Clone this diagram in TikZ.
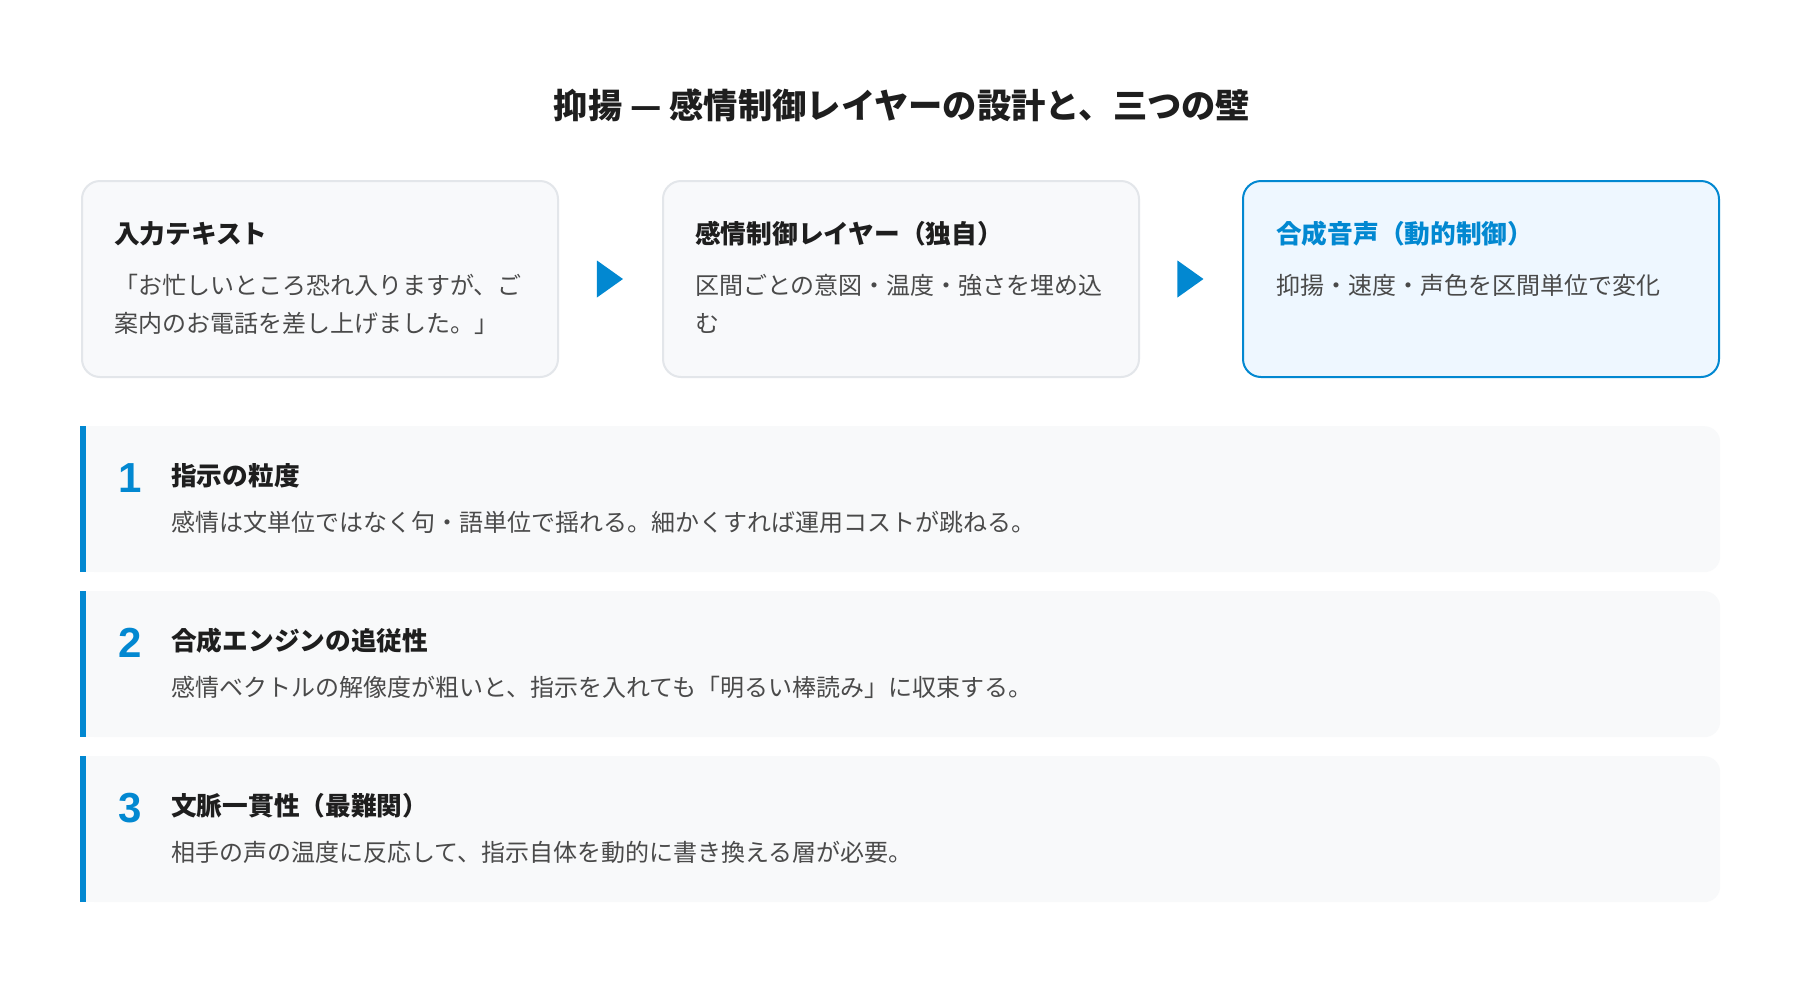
\documentclass[tikz,border=0pt]{standalone}
\usepackage{fontspec}
\newfontfamily\jp{Noto Sans CJK JP}
\newfontfamily\numfont{Liberation Sans}
\usetikzlibrary{shapes.geometric,calc}
\definecolor{accent}{HTML}{0288D1}
\definecolor{cardfill}{HTML}{F8F9FB}
\definecolor{cardline}{HTML}{E3E6EA}
\definecolor{hifill}{HTML}{EEF7FF}
\definecolor{panelfill}{HTML}{F8F9FA}
\definecolor{headcol}{HTML}{1E1E1E}
\definecolor{bodycol}{HTML}{4A4A4A}
\begin{document}
\begin{tikzpicture}[x=1pt,y=-1pt,
  card/.style={draw=cardline, line width=2pt, fill=cardfill, rounded corners=18pt,
    minimum width=476pt, minimum height=196pt, inner sep=0pt, outer sep=0pt, anchor=north west},
  cardhi/.style={card, draw=accent, fill=hifill},
  panelbox/.style={fill=panelfill, rounded corners=16pt, minimum width=1640pt,
    minimum height=146pt, inner sep=0pt, anchor=north west},
  hd/.style={anchor=base west, inner sep=0pt, text=headcol, font=\jp\bfseries\fontsize{25.7}{30}\selectfont},
  bd/.style={anchor=base west, inner sep=0pt, text=bodycol, font=\jp\fontsize{24}{30}\selectfont},
  num/.style={anchor=base, inner sep=0pt, text=accent, font=\numfont\bfseries\fontsize{42}{46}\selectfont},
  flowtri/.style={isosceles triangle, isosceles triangle stretches, fill=accent, draw=none,
    minimum height=26pt, minimum width=37pt, inner sep=0pt, shape border rotate=0}
]
\useasboundingbox (0,0) rectangle (1800,1002);
\fill[white] (0,0) rectangle (1800,1002);

% title
\node[anchor=base, inner sep=0pt, text=headcol, font=\jp\bfseries\fontsize{34.3}{40}\selectfont]
  (title) at (902,118) {抑揚 — 感情制御レイヤーの設計と、三つの壁};

% top cards
\node[card] (b1) at (82,181) {};
\node[card] (b2) at (663,181) {};
\node[cardhi] (b3) at (1243,181) {};

\node[hd] (b1h) at ($(b1.north west)+(32,62)$) {入力テキスト};
\node[bd] (b1a) at ($(b1.north west)+(32,113)$) {「お忙しいところ恐れ入りますが、ご};
\node[bd] (b1b) at ($(b1.north west)+(32,151)$) {案内のお電話を差し上げました。」};

\node[hd] (b2h) at ($(b2.north west)+(32,62)$) {感情制御レイヤー（独自）};
\node[bd] (b2a) at ($(b2.north west)+(32,113)$) {区間ごとの意図・温度・強さを埋め込};
\node[bd] (b2b) at ($(b2.north west)+(32,151)$) {む};

\node[hd, text=accent] (b3h) at ($(b3.north west)+(33,62)$) {合成音声（動的制御）};
\node[bd] (b3a) at ($(b3.north west)+(33,113)$) {抑揚・速度・声色を区間単位で変化};

% flow arrows
\node[flowtri] (t1) at ($(b1.east)!0.5!(b2.west)+(-4,0)$) {};
\node[flowtri] (t2) at ($(b2.east)!0.5!(b3.west)+(-4,0)$) {};

% panels
\foreach \i/\top in {1/426, 2/591, 3/756} {
  \node[panelbox] (p\i) at (80,\top) {};
  \fill[panelfill] (p\i.north west) rectangle ($(p\i.south west)+(24,0)$);
  \fill[accent] (p\i.north west) rectangle ($(p\i.south west)+(6,0)$);
}

\node[num] (n1) at ($(p1.north west)+(50,66)$) {1};
\node[hd] (h1) at ($(p1.north west)+(91,59)$) {指示の粒度};
\node[bd] (d1) at ($(p1.north west)+(91,105)$) {感情は文単位ではなく句・語単位で揺れる。細かくすれば運用コストが跳ねる。};

\node[num] (n2) at ($(p2.north west)+(50,66)$) {2};
\node[hd] (h2) at ($(p2.north west)+(91,59)$) {合成エンジンの追従性};
\node[bd] (d2) at ($(p2.north west)+(91,105)$) {感情ベクトルの解像度が粗いと、指示を入れても「明るい棒読み」に収束する。};

\node[num] (n3) at ($(p3.north west)+(50,66)$) {3};
\node[hd] (h3) at ($(p3.north west)+(91,59)$) {文脈一貫性（最難関）};
\node[bd] (d3) at ($(p3.north west)+(91,105)$) {相手の声の温度に反応して、指示自体を動的に書き換える層が必要。};
\end{tikzpicture}
\end{document}
